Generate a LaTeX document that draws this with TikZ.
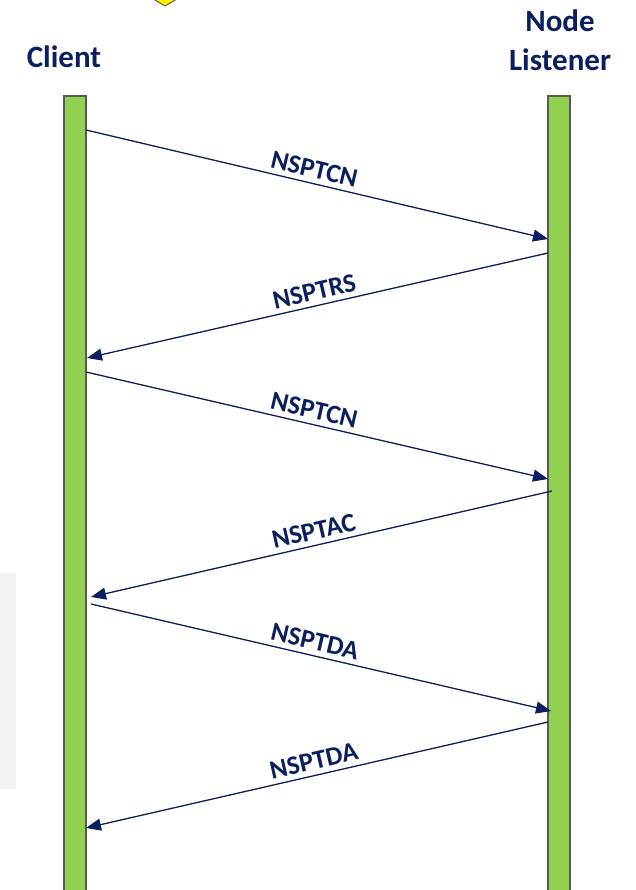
\documentclass[tikz,border=0pt]{standalone}
\usepackage{fontspec}
\setmainfont{Carlito}
\usepackage{xcolor}
\usetikzlibrary{arrows.meta}

\definecolor{msgblue}{HTML}{0A1F5E}
\definecolor{bargreen}{HTML}{92D050}
\definecolor{barline}{HTML}{595959}
\definecolor{panelgray}{HTML}{F2F2F2}

\begin{document}
\begin{tikzpicture}[
            x=1pt, y=-1pt,
            >={Triangle[length=15pt, width=12pt]},
            lifeline/.style={draw=barline, fill=bargreen, line width=1.2pt},
            party/.style={font=\bfseries\fontsize{31}{39}\selectfont, text=msgblue, align=center, inner sep=0pt},
            message/.style={->, line width=1.3pt, draw=msgblue},
            msg_label/.style={font=\bfseries\fontsize{26.5}{30}\selectfont, text=msgblue, sloped, above, inner sep=5pt, pos=0.5}
        ]
        \useasboundingbox (0,0) rectangle (636,890);

        % Background bits
        \begin{scope}
            \clip (0,0) rectangle (636,890);
            \fill[panelgray] (0,573) rectangle (16,789);
            \draw[fill=yellow, draw=black!70!yellow, line width=1pt] (165,6) -- (177,-1) -- (165,-8) -- (153,-1) -- cycle;

            % Lifelines
            \draw[lifeline] (64,96) rectangle (86,900);
            \draw[lifeline] (548,96) rectangle (570,900);
        \end{scope}

        % Participants
        \node[party, anchor=base] (client) at (64,68) {Client};
        \node[party, anchor=base] (listener) at (560,71) {Node\\Listener};

        % Message end points on the client side
        \coordinate (C1) at (86,130);
        \coordinate (C2) at (87,358);
        \coordinate (C3) at (86,372);
        \coordinate (C4) at (91,597);
        \coordinate (C5) at (91,604);
        \coordinate (C6) at (86,828);

        % Message end points on the listener side
        \coordinate (L1) at (548,239);
        \coordinate (L2) at (548,253);
        \coordinate (L3) at (548,479);
        \coordinate (L4) at (552,491);
        \coordinate (L5) at (551,711);
        \coordinate (L6) at (548,722);

        % Messages
        \draw[message] (C1) -- node[msg_label, pos=0.487] (m1) {NSPTCN} (L1);
        \draw[message] (L2) -- node[msg_label] (m2) {NSPTRS} (C2);
        \draw[message] (C3) -- node[msg_label, pos=0.487] (m3) {NSPTCN} (L3);
        \draw[message] (L4) -- node[msg_label, pos=0.51] (m4) {NSPTAC} (C4);
        \draw[message] (C5) -- node[msg_label, pos=0.48] (m5) {NSPTDA} (L5);
        \draw[message] (L6) -- node[msg_label] (m6) {NSPTDA} (C6);

    \end{tikzpicture}
\end{document}
